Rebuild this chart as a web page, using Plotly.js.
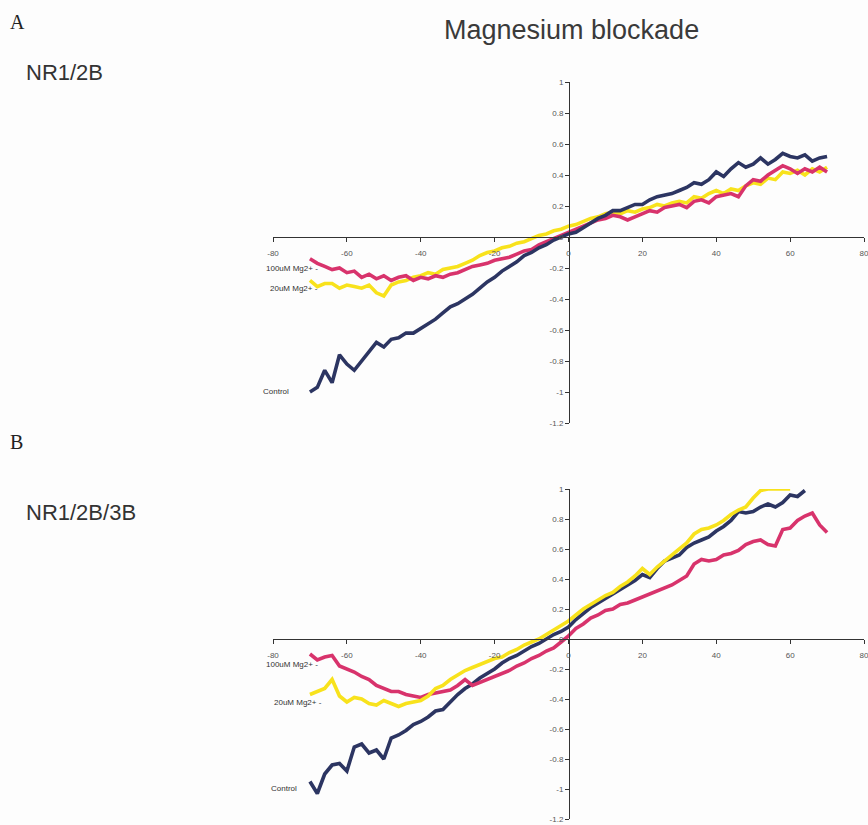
<!DOCTYPE html>
<html>
<head>
<meta charset="utf-8">
<script src="https://cdn.plot.ly/plotly-3.0.1.min.js"></script>
<style>
  html, body { margin: 0; padding: 0; background: #fdfdfd; }
  #chart { width: 868px; height: 825px; }
</style>
</head>
<body>
<div id="chart"></div>
<script>
// Membrane potential (mV)
const voltage = [-70,-68,-66,-64,-62,-60,-58,-56,-54,-52,-50,-48,-46,-44,-42,-40,-38,-36,-34,-32,-30,-28,-26,-24,-22,-20,-18,-16,-14,-12,-10,-8,-6,-4,-2,0,2,4,6,8,10,12,14,16,18,20,22,24,26,28,30,32,34,36,38,40,42,44,46,48,50,52,54,56,58,60,62,64,66,68,70];

// Panel A: NR1/2B (normalized current)
const a_control = [-1.00,-0.97,-0.86,-0.94,-0.76,-0.82,-0.86,-0.80,-0.74,-0.68,-0.71,-0.66,-0.65,-0.62,-0.62,-0.59,-0.56,-0.53,-0.49,-0.45,-0.43,-0.40,-0.37,-0.33,-0.29,-0.26,-0.22,-0.19,-0.16,-0.12,-0.10,-0.07,-0.05,-0.02,0.00,0.02,0.03,0.06,0.09,0.12,0.14,0.17,0.17,0.19,0.21,0.21,0.24,0.26,0.27,0.28,0.30,0.32,0.35,0.34,0.37,0.42,0.39,0.44,0.48,0.45,0.47,0.51,0.47,0.50,0.54,0.52,0.51,0.53,0.49,0.51,0.52];
const a_mg100 = [-0.14,-0.17,-0.19,-0.21,-0.20,-0.23,-0.22,-0.26,-0.24,-0.27,-0.25,-0.28,-0.26,-0.25,-0.28,-0.26,-0.27,-0.25,-0.26,-0.24,-0.23,-0.21,-0.19,-0.18,-0.17,-0.15,-0.14,-0.13,-0.11,-0.09,-0.08,-0.05,-0.03,-0.01,0.01,0.03,0.05,0.07,0.09,0.11,0.12,0.14,0.13,0.11,0.13,0.15,0.17,0.16,0.19,0.20,0.21,0.19,0.23,0.24,0.22,0.26,0.27,0.28,0.26,0.33,0.37,0.36,0.40,0.43,0.46,0.44,0.41,0.44,0.42,0.45,0.42];
const a_mg20 = [-0.28,-0.32,-0.30,-0.30,-0.33,-0.31,-0.32,-0.33,-0.31,-0.36,-0.38,-0.31,-0.29,-0.28,-0.26,-0.25,-0.23,-0.24,-0.21,-0.20,-0.19,-0.17,-0.15,-0.12,-0.10,-0.09,-0.07,-0.06,-0.04,-0.03,-0.01,0.01,0.02,0.04,0.05,0.07,0.08,0.10,0.12,0.13,0.15,0.16,0.15,0.17,0.16,0.18,0.19,0.21,0.20,0.22,0.23,0.22,0.26,0.25,0.28,0.30,0.28,0.31,0.30,0.33,0.35,0.34,0.38,0.37,0.42,0.41,0.43,0.40,0.44,0.42,0.45];

// Panel B: NR1/2B/3B (normalized current)
const b_control = [-0.95,-1.03,-0.90,-0.84,-0.83,-0.88,-0.72,-0.70,-0.76,-0.74,-0.80,-0.66,-0.64,-0.61,-0.57,-0.55,-0.52,-0.48,-0.47,-0.42,-0.37,-0.33,-0.30,-0.26,-0.23,-0.20,-0.16,-0.13,-0.11,-0.08,-0.05,-0.03,0.00,0.03,0.05,0.08,0.13,0.17,0.21,0.24,0.27,0.30,0.33,0.36,0.39,0.43,0.41,0.47,0.52,0.54,0.56,0.61,0.64,0.66,0.68,0.72,0.75,0.79,0.85,0.84,0.85,0.88,0.90,0.88,0.91,0.96,0.95,0.99,null,null,null];
const b_mg100 = [-0.10,-0.14,-0.12,-0.11,-0.18,-0.20,-0.22,-0.25,-0.27,-0.31,-0.33,-0.35,-0.35,-0.37,-0.38,-0.39,-0.37,-0.36,-0.35,-0.34,-0.31,-0.27,-0.31,-0.29,-0.27,-0.25,-0.23,-0.21,-0.18,-0.16,-0.13,-0.11,-0.08,-0.06,-0.02,0.02,0.07,0.10,0.14,0.16,0.19,0.20,0.23,0.24,0.26,0.28,0.30,0.32,0.34,0.36,0.39,0.42,0.50,0.53,0.52,0.53,0.56,0.57,0.59,0.63,0.65,0.66,0.63,0.62,0.73,0.74,0.79,0.82,0.84,0.76,0.71];
const b_mg20 = [-0.37,-0.35,-0.33,-0.27,-0.38,-0.42,-0.39,-0.40,-0.43,-0.44,-0.41,-0.43,-0.45,-0.43,-0.42,-0.41,-0.38,-0.33,-0.31,-0.27,-0.24,-0.21,-0.19,-0.17,-0.15,-0.13,-0.12,-0.09,-0.07,-0.04,-0.02,0.00,0.03,0.06,0.09,0.12,0.16,0.20,0.23,0.26,0.29,0.31,0.35,0.38,0.42,0.47,0.43,0.48,0.52,0.56,0.60,0.64,0.70,0.73,0.74,0.76,0.79,0.83,0.86,0.88,0.94,0.99,1.00,1.00,1.00,1.00,null,null,null,null,null];

const seriesNames = ['Control', '100uM Mg2+', '20uM Mg2+'];
const xTickVals = [-80,-60,-40,-20,0,20,40,60,80];
const xTickText = ['-80','-60','-40','-20','0','20','40','60','80'];
const yTickVals = [-1.2,-1,-0.8,-0.6,-0.4,-0.2,0,0.2,0.4,0.6,0.8,1];
const yTickText = ['-1.2','-1','-0.8','-0.6','-0.4','-0.2','0','0.2','0.4','0.6','0.8','1'];

const colControl = '#2c3562';
const colMg100 = '#d8336c';
const colMg20 = '#f8e21c';

function tr(y, name, color, xa, ya) {
  return {x: voltage, y: y, name: name, type: 'scatter', mode: 'lines',
          xaxis: xa, yaxis: ya, connectgaps: false,
          line: {color: color, width: 3.6, shape: 'linear'}, hoverinfo: 'skip'};
}

const data = [
  tr(a_mg20, seriesNames[2], colMg20, 'x', 'y'),
  tr(a_mg100, seriesNames[1], colMg100, 'x', 'y'),
  tr(a_control, seriesNames[0], colControl, 'x', 'y'),
  tr(b_control, seriesNames[0], colControl, 'x2', 'y2'),
  tr(b_mg100, seriesNames[1], colMg100, 'x2', 'y2'),
  tr(b_mg20, seriesNames[2], colMg20, 'x2', 'y2')
];

const W = 868, H = 825;
const px = v => v / W;
const py = v => (H - v) / H;

const tickFont = {family: 'Liberation Sans, Arial, sans-serif', size: 8, color: '#555'};

function xAx(pos) {
  return {domain: [px(273), px(864)], range: [-80, 80], anchor: 'free', position: pos,
          tickmode: 'array', tickvals: xTickVals, ticktext: xTickText,
          showline: true, linecolor: '#333', linewidth: 1.2,
          ticks: 'outside', ticklen: 4, tickcolor: '#333', tickwidth: 1,
          ticklabelstandoff: 4, ticklabeloverflow: 'allow',
          showgrid: false, zeroline: false, tickfont: tickFont, fixedrange: true};
}
function yAx(dom) {
  return {domain: dom, range: [-1.2, 1], anchor: 'free', position: px(569),
          tickmode: 'array', tickvals: yTickVals, ticktext: yTickText,
          showline: true, linecolor: '#333', linewidth: 1.2,
          ticks: 'outside', ticklen: 4, tickcolor: '#333', tickwidth: 1,
          ticklabeloverflow: 'allow',
          showgrid: false, zeroline: false, tickfont: tickFont, fixedrange: true};
}

const lblFont = {family: 'Liberation Sans, Arial, sans-serif', size: 8, color: '#333'};
const titleFont = {family: 'Liberation Sans, Arial, sans-serif', size: 27, color: '#3a3a3a'};
const bigFont = {family: 'Liberation Sans, Arial, sans-serif', size: 22, color: '#333'};
const letterFont = {family: 'Liberation Serif, Times New Roman, serif', size: 20, color: '#222'};

function ann(text, x, y, font, xanchor) {
  return {text: text, xref: 'paper', yref: 'paper', x: px(x), y: py(y),
          xanchor: xanchor, yanchor: 'middle', showarrow: false, font: font};
}

const layout = {
  width: W, height: H,
  margin: {l: 0, r: 0, t: 0, b: 0},
  paper_bgcolor: '#fdfdfd', plot_bgcolor: 'rgba(0,0,0,0)',
  showlegend: false,
  xaxis: xAx(py(237)),
  yaxis: yAx([py(423), py(82)]),
  xaxis2: xAx(py(639)),
  yaxis2: yAx([py(819), py(489)]),
  annotations: [
    ann('Magnesium blockade', 571, 30, titleFont, 'center'),
    ann('A', 8, 22, letterFont, 'left'),
    ann('B', 8, 442, letterFont, 'left'),
    ann('NR1/2B', 24, 72, bigFont, 'left'),
    ann('NR1/2B/3B', 24, 512, bigFont, 'left'),
    ann(seriesNames[1] + ' -', 320, 268, lblFont, 'right'),
    ann(seriesNames[2] + ' -', 320, 288, lblFont, 'right'),
    ann(seriesNames[0], 291, 392, lblFont, 'right'),
    ann(seriesNames[1] + ' -', 320, 664, lblFont, 'right'),
    ann(seriesNames[2] + ' -', 324, 702, lblFont, 'right'),
    ann(seriesNames[0], 299, 788, lblFont, 'right')
  ]
};

Plotly.newPlot('chart', data, layout, {displayModeBar: false, staticPlot: true});
</script>
</body>
</html>
